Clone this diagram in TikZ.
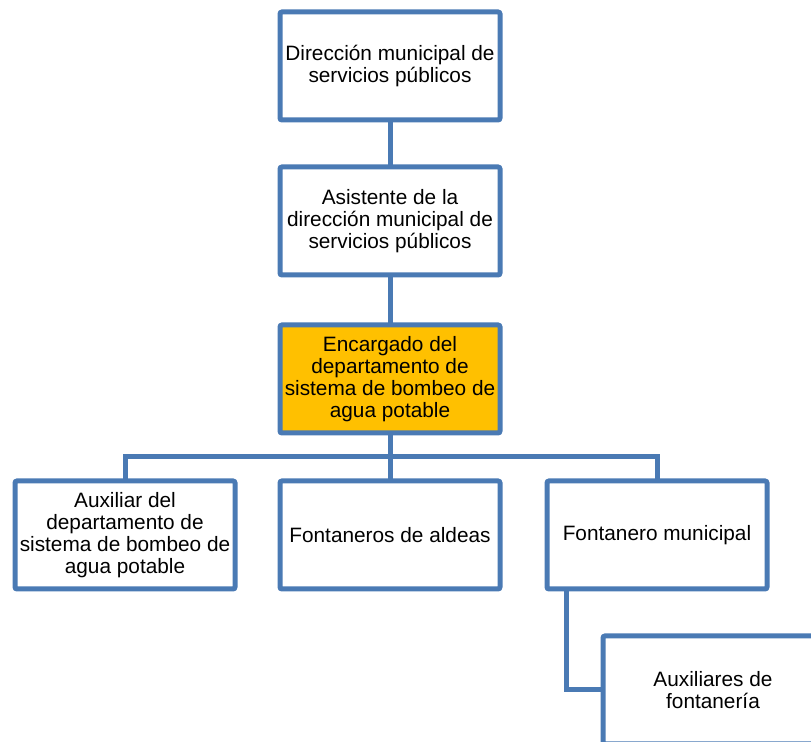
\documentclass[tikz,border=0pt]{standalone}
\usepackage{fontspec}
\setmainfont{Liberation Sans}
\usepackage{xcolor}
\definecolor{orgblue}{RGB}{74,122,180}
\definecolor{orgorange}{RGB}{255,192,0}
\usepackage{tikz}
\usetikzlibrary{positioning,calc}

\begin{document}
\begin{tikzpicture}[x=0.5pt,y=-0.5pt,
  orgbox/.style={draw=orgblue,line width=2.5pt,fill=white,rounded corners=1pt,
    minimum width=110pt,minimum height=54pt,inner sep=0pt,
    align=center,font=\fontsize{10.4}{11.1}\selectfont},
  orglink/.style={draw=orgblue,line width=2.5pt}]
  % lienzo 811 x 742 px (1 px = 0.5 pt)
  \useasboundingbox (0,0) rectangle (811,742);
  \clip (0,0) rectangle (811,742);
  % --- conectores ---
  \coordinate (bus) at (390,457);
  \coordinate (dirpos) at (390,66);
  \coordinate (asispos) at (390,221);
  \coordinate (encpos) at (390,379);
  \draw[orglink] (dirpos) -- (encpos) -- (bus);
  \draw[orglink] (125,535) |- (bus) -| (657,535);
  \draw[orglink] (bus) -- (390,535);
  % --- cajas ---
  \node[orgbox] (dir) at (dirpos) {Dirección municipal de\\servicios públicos};
  \node[orgbox] (asis) at (asispos) {Asistente de la\\dirección municipal de\\servicios públicos};
  \node[orgbox,fill=orgorange] (enc) at (encpos) {Encargado del\\departamento de\\sistema de bombeo de\\agua potable};
  \node[orgbox] (aux) at (125,535) {Auxiliar del\\departamento de\\sistema de bombeo de\\agua potable};
  \node[orgbox] (fontal) at (390,535) {Fontaneros de aldeas};
  \node[orgbox] (fontmun) at (657,535) {Fontanero municipal};
  % caja cortada por el borde
  \node[orgbox] (auxfont) at (713,690) {Auxiliares de\\fontanería};
  \draw[orglink] ([xshift=11pt]fontmun.south west) |- (auxfont.west);
\end{tikzpicture}
\end{document}
